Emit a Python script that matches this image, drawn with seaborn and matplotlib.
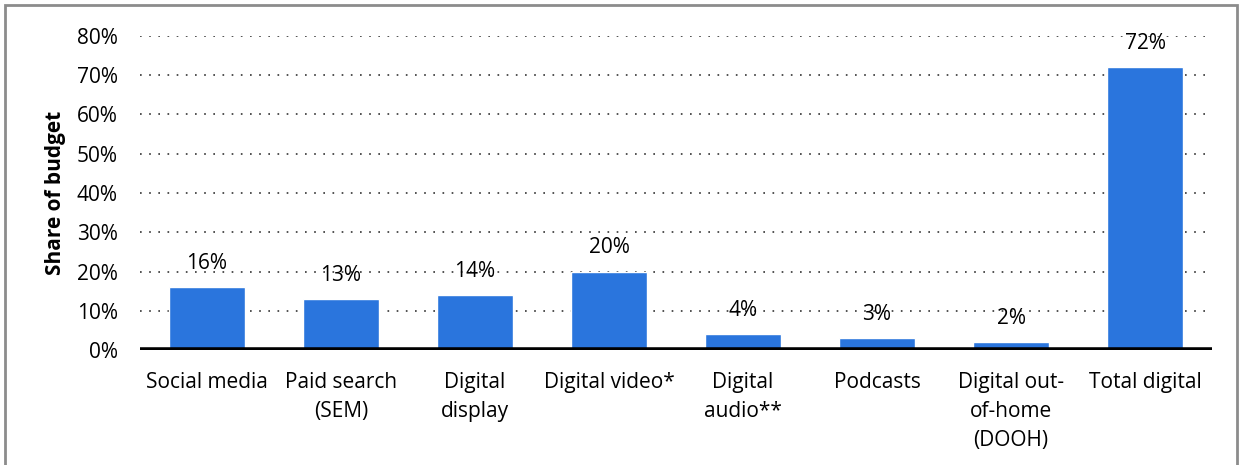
import matplotlib
matplotlib.use("Agg")
import matplotlib.pyplot as plt
from matplotlib.patches import Rectangle
import seaborn as sns
import pandas as pd

categories = ["Social media", "Paid search\n(SEM)", "Digital\ndisplay", "Digital video*",
              "Digital\naudio**", "Podcasts", "Digital out-\nof-home\n(DOOH)", "Total digital"]
shares = [16, 13, 14, 20, 4, 3, 2, 72]
y_ticks = [0, 10, 20, 30, 40, 50, 60, 70, 80]
y_tick_labels = [f"{t}%" for t in y_ticks]

sns.set_theme(style="white")
plt.rcParams["font.family"] = ["Open Sans", "DejaVu Sans"]

FS = 15

df = pd.DataFrame({"category": categories, "share": shares})

fig = plt.figure(figsize=(12.43, 4.65), dpi=100)
ax = fig.add_axes([140 / 1243, 1 - 350 / 465, (1212 - 140) / 1243, (350 - 36) / 465])

sns.barplot(data=df, x="category", y="share", color="#2A75DD", saturation=1,
            width=0.57, ax=ax, zorder=3)

ax.set_ylim(0, 80)
ax.set_xlim(-0.5, len(categories) - 0.5)
ax.set_yticks(y_ticks)
ax.set_yticklabels(y_tick_labels, fontsize=FS, color="black")
ax.tick_params(axis="y", length=0, pad=16)
ax.tick_params(axis="x", length=0, pad=16, labelsize=FS, labelcolor="black")
for t in ax.get_xticklabels():
    t.set_linespacing(1.5)
    t.set_verticalalignment("top")

for y in y_ticks[1:]:
    ax.axhline(y, color="#333333", linestyle=(0, (1, 4.5)), linewidth=1.2, zorder=1)
ax.axhline(0, color="black", linewidth=4, zorder=4)

for spine in ax.spines.values():
    spine.set_visible(False)

ax.set_xlabel("")
ax.set_ylabel("Share of budget", fontsize=FS, fontweight="bold", labelpad=8, color="black")

for i, v in enumerate(shares):
    ax.annotate(f"{v}%", (i, v), xytext=(0, 17), textcoords="offset points",
                ha="center", va="center", fontsize=FS, color="black", zorder=5)

# frame around the whole figure
fig.patches.append(Rectangle((5 / 1243, -0.1), (1237 - 5) / 1243, 1 - 5 / 465 + 0.1,
                             transform=fig.transFigure, fill=False,
                             edgecolor="#8c8c8c", linewidth=2))

fig.savefig("out.png", dpi=100)
